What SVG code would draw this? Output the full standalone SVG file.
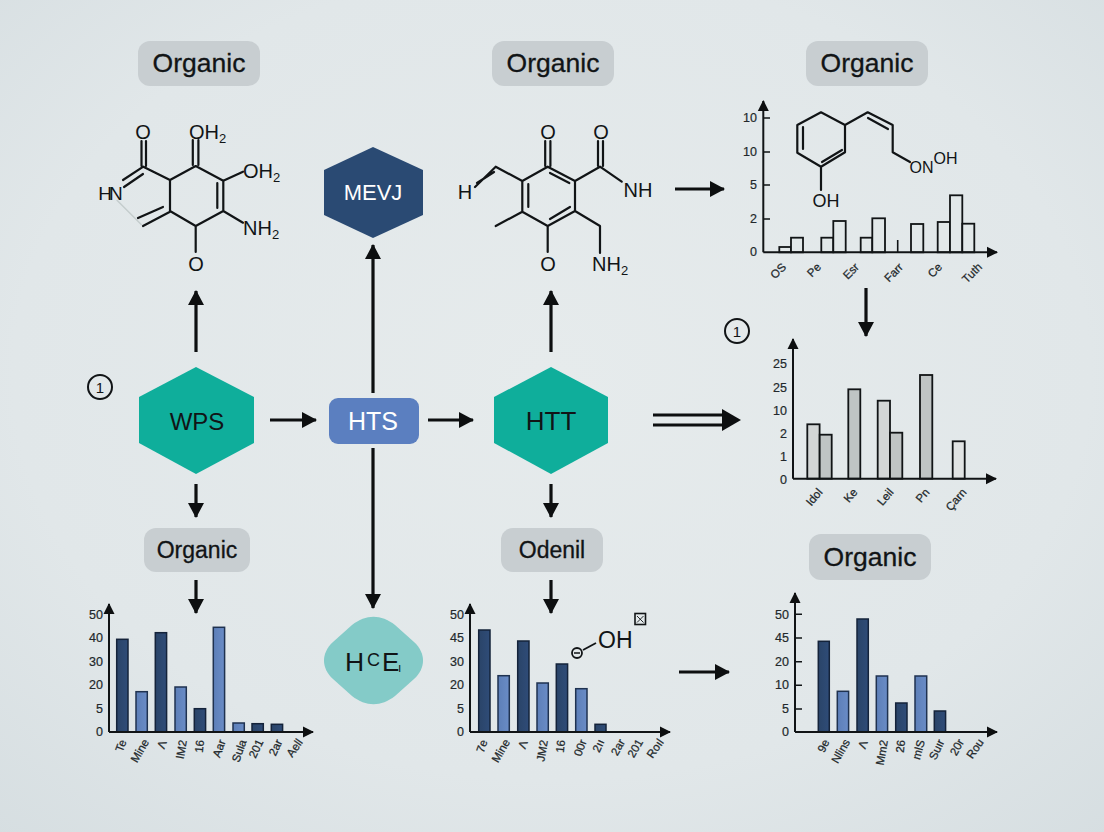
<svg xmlns="http://www.w3.org/2000/svg" width="1104" height="832" viewBox="0 0 1104 832">
<defs>
<radialGradient id="bg" cx="50%" cy="45%" r="75%"><stop offset="0" stop-color="#e6ebec"/><stop offset="0.65" stop-color="#e1e7e9"/><stop offset="1" stop-color="#d6dee1"/></radialGradient>
<linearGradient id="dark" x1="0" x2="1" y1="0" y2="0"><stop offset="0" stop-color="#2a4468"/><stop offset="1" stop-color="#2f4c78"/></linearGradient>
<linearGradient id="light" x1="0" x2="1" y1="0" y2="0"><stop offset="0" stop-color="#5d7fb8"/><stop offset="1" stop-color="#6a8cc6"/></linearGradient>
<marker id="a" markerUnits="userSpaceOnUse" markerWidth="18" markerHeight="18" refX="14" refY="9" orient="auto"><path d="M0 1L15 9L0 17Z" fill="#0d0f10"/></marker>
<marker id="a2" markerUnits="userSpaceOnUse" markerWidth="22" markerHeight="24" refX="18" refY="12" orient="auto"><path d="M0 1L19 12L0 23Z" fill="#0d0f10"/></marker>
<marker id="ax" markerUnits="userSpaceOnUse" markerWidth="12" markerHeight="12" refX="10" refY="6" orient="auto"><path d="M0 0.500L11 6L0 11.500Z" fill="#0d0f10"/></marker>
</defs>
<style>
text{font-family:"Liberation Sans",Arial,sans-serif;fill:#111416}
.c{text-anchor:middle;dominant-baseline:central}
.pill{fill:#c8ced1}
.big{font-size:26.500px;stroke:#111416;stroke-width:0.300}
.mid{font-size:23px;stroke:#111416;stroke-width:0.300}
.atom{font-size:20px}
.sub{font-size:13px}
.bond{fill:none;stroke:#111416;stroke-width:2.200;stroke-linecap:round;stroke-linejoin:round}
.conn{fill:none;stroke:#0d0f10;stroke-width:3.200;marker-end:url(#a)}
.axis{fill:none;stroke:#111416;stroke-width:2;marker-end:url(#ax)}
.tick{fill:none;stroke:#111416;stroke-width:1.600}
.yl{font-size:12.500px;text-anchor:end;dominant-baseline:central;fill:#22282b;stroke:#22282b;stroke-width:0.200}
.xl{font-size:11.500px;text-anchor:end;dominant-baseline:central;fill:#22282b;stroke:#22282b;stroke-width:0.250}
.d{fill:url(#dark);stroke:#14233a;stroke-width:1.500}
.l{fill:url(#light);stroke:#1f3250;stroke-width:1.500}
.o{fill:#e2e8e9;stroke:#111416;stroke-width:1.800}
.g1{fill:#d3d6d6;stroke:#111416;stroke-width:1.800}
.g2{fill:#bfc4c4;stroke:#111416;stroke-width:1.800}
</style>
<rect width="1104" height="832" fill="url(#bg)"/>

<g id="connectors">
<path class="conn" d="M196 352V291"/>
<path class="conn" d="M373 393V245"/>
<path class="conn" d="M551 352V291"/>
<path class="conn" d="M675 189H724"/>
<path class="conn" d="M866 288V336"/>
<path class="conn" d="M270 420H316"/>
<path class="conn" d="M428 420H473"/>
<path class="conn" d="M653 415H726M653 425H726" style="marker-end:none"/>
<path class="conn" d="M700 420H740" style="stroke:none;marker-end:url(#a2)"/>
<path class="conn" d="M196 484V517"/>
<path class="conn" d="M373 448V608"/>
<path class="conn" d="M551 484V517"/>
<path class="conn" d="M196 580V613"/>
<path class="conn" d="M551 580V613"/>
<path class="conn" d="M679 672H729"/>
</g>

<g id="label-top-1"><rect class="pill" x="138" y="41" width="122" height="45" rx="12"/><text class="c big" x="199" y="63">Organic</text></g>
<g id="label-top-2"><rect class="pill" x="492" y="41" width="122" height="45" rx="12"/><text class="c big" x="553" y="63">Organic</text></g>
<g id="label-top-3"><rect class="pill" x="806" y="41" width="122" height="45" rx="12"/><text class="c big" x="867" y="63">Organic</text></g>
<g id="label-bottom-1"><rect class="pill" x="144" y="528" width="106" height="44" rx="12"/><text class="c mid" x="197" y="550">Organic</text></g>
<g id="label-bottom-2"><rect class="pill" x="501" y="528" width="102" height="44" rx="12"/><text class="c mid" x="552" y="550">Odenil</text></g>
<g id="label-bottom-3"><rect class="pill" x="809" y="534" width="122" height="46" rx="12"/><text class="c big" x="870" y="557">Organic</text></g>

<g id="node-mev"><polygon points="373,147 423,170 423,215 373,238 324,215 324,170" fill="#2a4a73"/><text class="c" x="373" y="192" style="font-size:22px;fill:#fff">MEVJ</text></g>
<g id="node-wps"><polygon points="196,367 254,397 254,443 196,474 139,443 139,397" fill="#0fae9b"/><text class="c" x="197" y="421" style="font-size:24px">WPS</text></g>
<g id="node-htt"><polygon points="551,367 608,397 608,443 551,474 494,443 494,397" fill="#0fae9b"/><text class="c" x="551" y="421" style="font-size:26px">HTT</text></g>
<g id="node-hts"><rect x="329" y="398" width="90" height="46" rx="9" fill="#5b7fc0"/><text class="c" x="373" y="421" style="font-size:25px;fill:#fff">HTS</text></g>
<g id="node-hce"><path d="M352 625C366 614 381 614 395 625L414 642C426 653 426 668 414 679L395 696C381 707 366 707 352 696L333 679C321 668 321 653 333 642Z" fill="#84cbc8"/>
<text x="345" y="671" style="font-size:26.500px">H</text><text x="367" y="666" style="font-size:18px">C</text><text x="382" y="671" style="font-size:26px">E</text><text x="398" y="672" style="font-size:12px">ı</text></g>

<g id="badge-1"><circle cx="100" cy="387" r="12" fill="none" stroke="#111416" stroke-width="2"/><text class="c" x="100" y="387" style="font-size:15px">1</text></g>
<g id="badge-2"><circle cx="737" cy="331" r="12" fill="none" stroke="#111416" stroke-width="2"/><text class="c" x="737" y="331" style="font-size:15px">1</text></g>

<g id="molecule-1">
<path class="bond" d="M123 180L143.300 166.700L170 180L195.700 166L223.300 180.700V211L195.700 226L170 211V180M143 174L124 187M141.500 166V141M146 166V141M192.800 165V140M198.400 165V140M223.300 180.700L243 171.700M217.300 183V208M223.300 211L243 222.700M195.700 226V252M138 218L163 207M143 226L170 211.700"/>
<path d="M116.700 200L141.700 225" stroke="#c5cccd" stroke-width="1.500" fill="none"/>
<text class="c atom" x="143" y="132">O</text>
<text class="c atom" x="109" y="193" style="letter-spacing:-3px;font-size:19px">HN</text>
<text class="atom" x="189" y="139">OH<tspan class="sub" dy="4">2</tspan></text>
<text class="atom" x="243" y="178">OH<tspan class="sub" dy="4">2</tspan></text>
<text class="atom" x="243" y="235">NH<tspan class="sub" dy="4">2</tspan></text>
<text class="c atom" x="196" y="264">O</text>
</g>

<g id="molecule-2">
<path class="bond" d="M547.700 166.700L575 181V211L547.700 226L522.300 211.700V181ZM528.300 184V207M550 173L569.300 183M550 219L570 207M545.200 166V141M550.400 166V141M575 181L600 166.700L621.700 181.700M598 166V141M603 166V141M547.700 226V252M575 211L600 226V253M522.300 211.700L495.700 226M522.300 181L495.700 166.700L475 187M494 172L477 183"/>
<text class="c atom" x="548" y="132">O</text>
<text class="c atom" x="601" y="132">O</text>
<text class="c atom" x="638" y="190">NH</text>
<text class="c atom" x="465" y="192">H</text>
<text class="c atom" x="548" y="264">O</text>
<text class="atom" x="592" y="271">NH<tspan class="sub" dy="4">2</tspan></text>
</g>

<g id="molecule-3">
<path class="bond" d="M821 112.300L845 125V152.300L821 166.700L797.300 152.700V125ZM803 127V149M842 150L822 162M845 125L867.700 112.300L892.700 125V152.300L910 162M868 118L888 129M821 166.700V190"/>
<text class="c" x="826" y="201" style="font-size:18px">OH</text>
<text class="c" x="921.500" y="167" style="font-size:16px">ON</text>
<text class="c" x="945.500" y="158" style="font-size:16px">OH</text>
</g>

<g id="chart-top">
<rect class="o" x="779.300" y="247" width="11.700" height="5.300"/><rect class="o" x="791" y="237.700" width="12" height="14.600"/>
<rect class="o" x="821.300" y="237.700" width="12" height="14.600"/><rect class="o" x="833.300" y="221" width="12.400" height="31.300"/>
<rect class="o" x="860.700" y="237.700" width="11.600" height="14.600"/><rect class="o" x="872.300" y="218.300" width="12.700" height="34"/>
<path class="tick" d="M897.700 240V252"/>
<rect class="o" x="911" y="224" width="12.300" height="28.300"/>
<rect class="o" x="937.700" y="222" width="12.300" height="30.300"/><rect class="o" x="950" y="195.300" width="12.300" height="57"/><rect class="o" x="962.300" y="223.700" width="12" height="28.600"/>
<path class="axis" d="M763.300 252.300V101"/><path class="axis" d="M763.300 252.300H997"/>
<path class="tick" d="M763 118H770M763 152H770M763 185H770M763 219H770"/>
<text class="yl" x="757" y="118">10</text><text class="yl" x="757" y="152">10</text><text class="yl" x="757" y="185">5</text><text class="yl" x="757" y="219">2</text><text class="yl" x="757" y="252">0</text>
<text class="xl" transform="translate(784 265) rotate(-45)">OS</text>
<text class="xl" transform="translate(819 265) rotate(-45)">Pe</text>
<text class="xl" transform="translate(857 265) rotate(-45)">Esr</text>
<text class="xl" transform="translate(901 265) rotate(-45)">Farr</text>
<text class="xl" transform="translate(940 265) rotate(-45)">Ce</text>
<text class="xl" transform="translate(980 265) rotate(-45)">Tuth</text>
</g>

<g id="chart-gray">
<rect class="g1" x="807.300" y="424.300" width="12.300" height="54.400"/><rect class="g2" x="819.700" y="434.700" width="12" height="44"/>
<rect class="g2" x="848.300" y="389.300" width="12" height="89.400"/>
<rect class="g1" x="877.700" y="400.700" width="12.300" height="78"/><rect class="g2" x="890" y="432.700" width="12.300" height="46"/>
<rect class="g2" x="920" y="375" width="12.300" height="103.700"/>
<rect class="g1" x="952.700" y="441.300" width="12" height="37.400" style="fill:#e0e3e3"/>
<path class="axis" d="M793 478.700V339"/><path class="axis" d="M793 478.700H996"/>
<text class="yl" x="787" y="364">25</text><text class="yl" x="787" y="388">25</text><text class="yl" x="787" y="411">10</text><text class="yl" x="787" y="434">2</text><text class="yl" x="787" y="457">1</text><text class="yl" x="787" y="480">0</text>
<text class="xl" transform="translate(820 490) rotate(-50)">Idol</text>
<text class="xl" transform="translate(855 490) rotate(-50)">Ke</text>
<text class="xl" transform="translate(891 490) rotate(-50)">Leil</text>
<text class="xl" transform="translate(927 490) rotate(-50)">Pn</text>
<text class="xl" transform="translate(964 490) rotate(-50)">Çarn</text>
</g>

<g id="chart-left">
<rect class="d" x="116.700" y="639.300" width="11.300" height="92.700"/><rect class="l" x="136" y="691.700" width="11.300" height="40.300"/>
<rect class="d" x="155.300" y="632.700" width="11.300" height="99.300"/><rect class="l" x="175" y="687" width="11.300" height="45"/>
<rect class="d" x="194.300" y="708.700" width="11.300" height="23.300"/><rect class="l" x="213.300" y="627.300" width="11.300" height="104.700"/>
<rect class="l" x="233" y="723" width="11.300" height="9"/><rect class="d" x="252" y="723.700" width="11.300" height="8.300"/><rect class="d" x="271.300" y="724.300" width="11.300" height="7.700"/>
<path class="axis" d="M109 732V604"/><path class="axis" d="M109 732H313"/>
<text class="yl" x="103" y="615">50</text><text class="yl" x="103" y="638">40</text><text class="yl" x="103" y="662">30</text><text class="yl" x="103" y="685">20</text><text class="yl" x="103" y="709">5</text><text class="yl" x="103" y="732">0</text>
<text class="xl" transform="translate(123 740) rotate(-70)">Te</text>
<text class="xl" transform="translate(146 740) rotate(-60)">Mine</text>
<text class="xl" transform="translate(163 741) rotate(-70)">Λ</text>
<text class="xl" transform="translate(183 740) rotate(-80)">IM2</text>
<text class="xl" transform="translate(200 740) rotate(-85)">16</text>
<text class="xl" transform="translate(222 740) rotate(-70)">Aar</text>
<text class="xl" transform="translate(243 740) rotate(-70)">Sula</text>
<text class="xl" transform="translate(260 740) rotate(-65)">201</text>
<text class="xl" transform="translate(279 740) rotate(-65)">2ar</text>
<text class="xl" transform="translate(300 740) rotate(-55)">Aell</text>
</g>

<g id="chart-mid">
<rect class="d" x="478.700" y="630" width="11.300" height="102"/><rect class="l" x="498" y="675.700" width="11.300" height="56.300"/>
<rect class="d" x="517.700" y="641" width="11.300" height="91"/><rect class="l" x="537" y="683" width="11.300" height="49"/>
<rect class="d" x="556.300" y="664" width="11.300" height="68"/><rect class="l" x="575.700" y="688.700" width="11.300" height="43.300"/>
<rect class="d" x="595" y="724.300" width="11" height="7.700"/>
<path class="axis" d="M470 732V604"/><path class="axis" d="M470 732H670"/>
<text class="yl" x="464" y="615">50</text><text class="yl" x="464" y="638">45</text><text class="yl" x="464" y="662">30</text><text class="yl" x="464" y="685">20</text><text class="yl" x="464" y="709">5</text><text class="yl" x="464" y="732">0</text>
<text class="xl" transform="translate(484 740) rotate(-70)">7e</text>
<text class="xl" transform="translate(507 740) rotate(-60)">Mine</text>
<text class="xl" transform="translate(524 741) rotate(-70)">Λ</text>
<text class="xl" transform="translate(544 740) rotate(-80)">JM2</text>
<text class="xl" transform="translate(561 740) rotate(-85)">16</text>
<text class="xl" transform="translate(583 740) rotate(-70)">00r</text>
<text class="xl" transform="translate(601 740) rotate(-65)">2ıı</text>
<text class="xl" transform="translate(622 740) rotate(-60)">2ar</text>
<text class="xl" transform="translate(640 740) rotate(-60)">201</text>
<text class="xl" transform="translate(661 740) rotate(-55)">Roıl</text>
</g>
<g id="hydroxyl">
<circle cx="577" cy="653" r="5" fill="none" stroke="#111416" stroke-width="1.800"/><path d="M574 653H580" stroke="#111416" stroke-width="1.500"/>
<path d="M583 650L596 643" stroke="#111416" stroke-width="1.800"/>
<text x="598" y="648" style="font-size:23px">OH</text>
<rect x="635" y="613.500" width="10.500" height="11" fill="none" stroke="#111416" stroke-width="1.600"/><path d="M637 616L643.500 622.500M643.500 616L637 622.500" stroke="#111416" stroke-width="0.900"/>
</g>

<g id="chart-right">
<rect class="d" x="818.300" y="641.300" width="11" height="90.700"/><rect class="l" x="837.300" y="691.300" width="11.300" height="40.700"/>
<rect class="d" x="857" y="619" width="11.300" height="113"/><rect class="l" x="876.300" y="676" width="11.300" height="56"/>
<rect class="d" x="895.700" y="703" width="11.300" height="29"/><rect class="l" x="915" y="676" width="11.700" height="56"/>
<rect class="d" x="934.300" y="711" width="11.300" height="21"/>
<path class="axis" d="M795 732V593"/><path class="axis" d="M795 732H997"/>
<path class="tick" d="M795 614.300H802M795 638H802M795 661.700H802M795 685.300H802M795 709H802"/>
<text class="yl" x="789" y="615">50</text><text class="yl" x="789" y="638">45</text><text class="yl" x="789" y="662">20</text><text class="yl" x="789" y="685">10</text><text class="yl" x="789" y="709">5</text><text class="yl" x="789" y="732">0</text>
<text class="xl" transform="translate(826 740) rotate(-65)">9e</text>
<text class="xl" transform="translate(847 740) rotate(-60)">Nlins</text>
<text class="xl" transform="translate(864 741) rotate(-70)">Λ</text>
<text class="xl" transform="translate(884 740) rotate(-80)">Mm2</text>
<text class="xl" transform="translate(901 740) rotate(-85)">26</text>
<text class="xl" transform="translate(921 740) rotate(-75)">mlS</text>
<text class="xl" transform="translate(941 740) rotate(-65)">Suır</text>
<text class="xl" transform="translate(961 740) rotate(-60)">20r</text>
<text class="xl" transform="translate(981 740) rotate(-55)">Rou</text>
</g>
</svg>
